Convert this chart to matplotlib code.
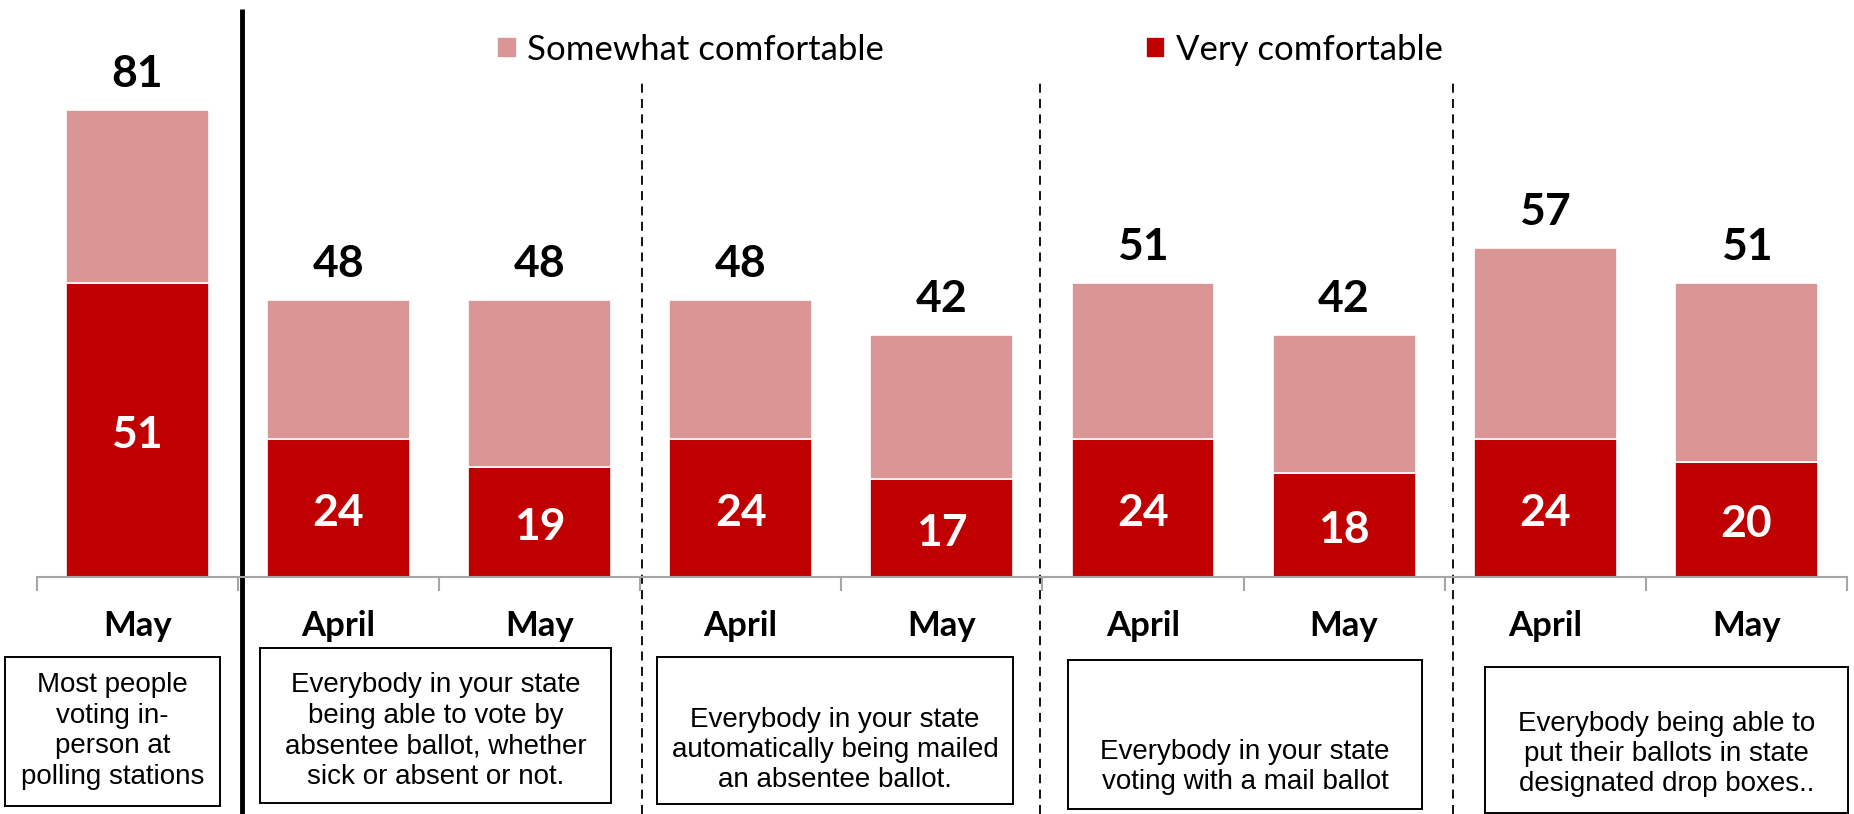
import matplotlib
matplotlib.use("Agg")
import matplotlib.pyplot as plt
import matplotlib.transforms as mtransforms
from matplotlib.patches import Rectangle

# ---- data ----
months = ["May", "April", "May", "April", "May", "April", "May", "April", "May"]
very = [51, 24, 19, 24, 17, 24, 18, 24, 20]
totals = [81, 48, 48, 48, 42, 51, 42, 57, 51]
somewhat = [t - v for t, v in zip(totals, very)]
legend_labels = ["Somewhat comfortable", "Very comfortable"]
box_texts = [
    "Most people\nvoting in-\nperson at\npolling stations",
    "Everybody in your state\nbeing able to vote by\nabsentee ballot, whether\nsick or absent or not.",
    "Everybody in your state\nautomatically being mailed\nan absentee ballot.",
    "Everybody in your state\nvoting with a mail ballot",
    "Everybody being able to\nput their ballots in state\ndesignated drop boxes..",
]

# ---- style ----
C_VERY = "#C00000"
C_SOME = "#D99694"
W, H = 1854, 814
BOLD = ["Lato", "DejaVu Sans"]
SANS = ["Liberation Sans", "DejaVu Sans"]

fig = plt.figure(figsize=(W / 100, H / 100), dpi=100)

def fx(px):
    return px / W

def fy(py):
    return 1 - py / H

ax_left, ax_right, ax_base = 36.6, 1847, 577
ax = fig.add_axes([fx(ax_left), fy(ax_base), fx(ax_right - ax_left), 1 - fy(ax_base)])
ax.set_xlim(-0.5, len(months) - 0.5)
ax.set_ylim(0, 100)

x = list(range(len(months)))
bw = 0.71
ax.bar(x, very, width=bw, color=C_VERY, edgecolor="white", linewidth=1.2, label=legend_labels[1], zorder=2)
ax.bar(x, somewhat, bottom=very, width=bw, color=C_SOME, edgecolor="white", linewidth=1.2, label=legend_labels[0], zorder=2)

for i in x:
    ax.annotate(str(totals[i]), xy=(i, totals[i]), xytext=(0, 26), textcoords="offset points",
                ha="center", va="center", fontsize=32, fontweight="bold", family=BOLD, color="black")
    ax.annotate(str(very[i]), xy=(i, very[i] / 2), xytext=(0, -3.5), textcoords="offset points",
                ha="center", va="center", fontsize=32, fontweight="bold", family=BOLD,
                color="white", zorder=3)

for s in ["top", "right", "left"]:
    ax.spines[s].set_visible(False)
ax.spines["bottom"].set_color("#A6A6A6")
ax.spines["bottom"].set_linewidth(1.5)
ax.set_yticks([])
ax.set_xticks([i - 0.5 for i in range(len(months) + 1)])
ax.set_xticklabels([])
ax.tick_params(axis="x", which="major", length=10, width=1.5, color="#A6A6A6", direction="out")
ax.set_xticks(x, minor=True)
ax.set_xticklabels(months, minor=True, fontsize=25, fontweight="bold", family=BOLD)
ax.tick_params(axis="x", which="minor", length=0, pad=24)

# separators
trans = mtransforms.blended_transform_factory(ax.transData, ax.transAxes)
ax_h_px = ax_base
bottom_axes = -(H - ax_base) / ax_h_px
ax.plot([0.52, 0.52], [bottom_axes, 1 - 9 / ax_h_px], transform=trans, color="black", lw=3.5,
        clip_on=False, solid_capstyle="butt")
for xs in [2.51, 4.49, 6.54]:
    ax.plot([xs, xs], [bottom_axes, 1 - 83 / ax_h_px], transform=trans, color="black", lw=1.3,
            linestyle=(0, (5, 3.5)), clip_on=False)

# legend
handles, labels = ax.get_legend_handles_labels()
order = [1, 0]
fig.legend([handles[k] for k in order], [labels[k] for k in order], loc="center",
           bbox_to_anchor=(fx(970), fy(50)), ncol=2, frameon=False,
           prop={"family": ["Lato", "DejaVu Sans"], "size": 25},
           handlelength=0.55, handleheight=0.55, handletextpad=0.3, columnspacing=7.55)

# description boxes (left, top, right, bottom) in px, and text center y
boxes = [
    (5, 657, 220, 806, 731),
    (260, 648, 611, 803, 731),
    (657, 657, 1013, 804, 750),
    (1068, 660, 1422, 809, 767),
    (1485, 667, 1848, 813, 754),
]
for (l, t, r, b, ty), txt in zip(boxes, box_texts):
    fig.add_artist(Rectangle((fx(l), fy(b)), fx(r - l), fy(t) - fy(b), transform=fig.transFigure,
                             fill=False, edgecolor="black", linewidth=1.4))
    fig.text(fx((l + r) / 2), fy(ty), txt, ha="center", va="center", fontsize=20,
             family=SANS, linespacing=1.22, color="black")

fig.savefig("out.png", dpi=100)
